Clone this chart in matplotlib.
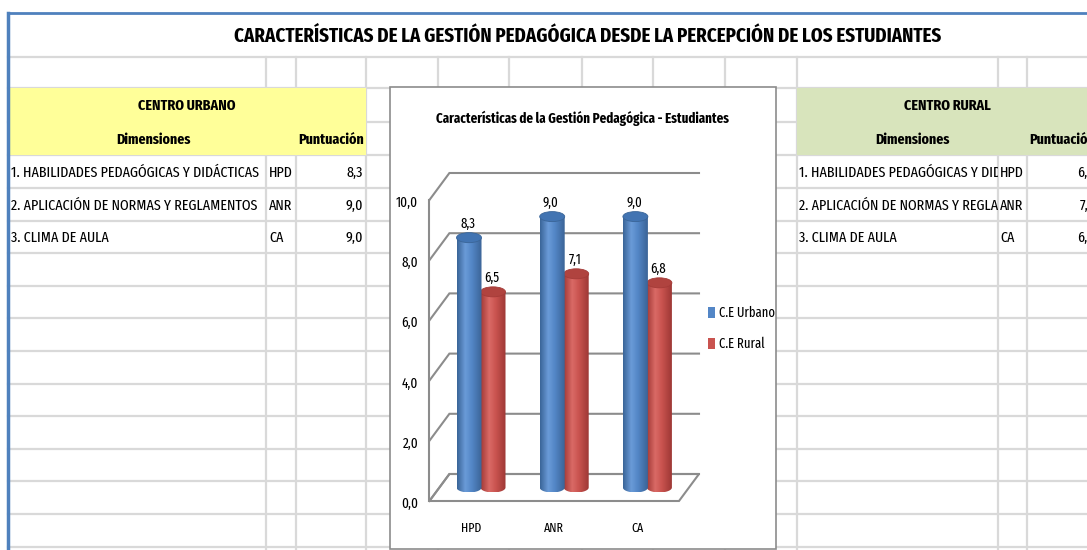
import numpy as np
import matplotlib
matplotlib.use("Agg")
import matplotlib.pyplot as plt
from matplotlib import font_manager
from matplotlib.colors import LinearSegmentedColormap
from matplotlib.patches import Rectangle, Ellipse, Polygon, Patch

# --- data -------------------------------------------------------------------
TITLE = "CARACTERÍSTICAS DE LA GESTIÓN PEDAGÓGICA DESDE LA PERCEPCIÓN DE LOS ESTUDIANTES"
CHART_TITLE = "Características de la Gestión Pedagógica - Estudiantes"
DIMENSIONS = ["1. HABILIDADES PEDAGÓGICAS Y DIDÁCTICAS",
              "2. APLICACIÓN DE NORMAS Y REGLAMENTOS",
              "3. CLIMA DE AULA"]
CODES = ["HPD", "ANR", "CA"]
URBAN = [8.3, 9.0, 9.0]
RURAL = [6.5, 7.1, 6.8]
SERIES = ["C.E Urbano", "C.E Rural"]
Y_TICKS = [0, 2, 4, 6, 8, 10]

# --- style --------------------------------------------------------------------
W, H = 1087, 550
GRID = "#D9D9D9"
BORDER_BLUE = "#4F81BD"
YELLOW = "#FFFF99"
GREEN = "#D8E4BC"
WALL = "#8C8C8C"
BLUE = ["#3A6598", "#6A9BD8", "#5386C6", "#3B6497"]
RED = ["#A43B38", "#DA6A66", "#C9534F", "#9E3835"]
BLUE_CAP = "#4274B2"
RED_CAP = "#B0433F"

# spreadsheet row / column edges (pixels)
ROW_EDGES = [57, 88, 122, 155, 188, 221, 253, 286, 318, 351, 384, 416, 449, 481, 514, 547]
COL_EDGES = [266, 296, 366, 438, 509, 582, 653, 725, 797, 998, 1027]

# the screenshot is squeezed sideways, so condensed faces fit it best
names = {f.name for f in font_manager.fontManager.ttflist}
FONT = next((f for f in ["Fira Sans Extra Condensed", "Fira Sans Condensed",
                         "Open Sans Condensed"] if f in names), "Liberation Sans")
plt.rcParams["font.family"] = [FONT, "DejaVu Sans"]
BOLD = dict(fontweight="bold")


def fmt(v):
    return f"{v:.1f}".replace(".", ",")


fig = plt.figure(figsize=(W / 100, H / 100), dpi=100)
renderer = fig.canvas.get_renderer()


def size_for(s, width_px, cap_px, **kw):
    # font size that gives the reference width, but no taller capitals than the reference
    t = fig.text(0, 0, s, fontsize=10, **kw)
    w = t.get_window_extent(renderer=renderer).width
    t.remove()
    return min(cap_px / 0.69 * 0.72, 10 * width_px / w)


# --- spreadsheet background ---------------------------------------------------
bg = fig.add_axes([0, 0, 1, 1])
bg.set_xlim(0, W)
bg.set_ylim(H, 0)
bg.axis("off")

for y in ROW_EDGES:
    bg.plot([8, W], [y, y], color=GRID, lw=1.6, zorder=1)
for x in COL_EDGES:
    bg.plot([x, x], [57, H], color=GRID, lw=1.6, zorder=1)
bg.plot([8, W], [13, 13], color=BORDER_BLUE, lw=2, zorder=3)
bg.plot([8, 8], [13, H], color=BORDER_BLUE, lw=2.5, zorder=3)

bg.add_patch(Rectangle((9, 88), 357, 67, facecolor=YELLOW, edgecolor="none", zorder=2))
bg.add_patch(Rectangle((797, 88), 300, 67, facecolor=GREEN, edgecolor="none", zorder=2))

bg.text(588, 36, TITLE, ha="center", va="center", zorder=4,
        fontsize=size_for(TITLE, 703, 18, **BOLD), **BOLD)

head = size_for("CENTRO URBANO", 97, 13, **BOLD)
row_fs = size_for(DIMENSIONS[0], 248, 13)
row_y = [(ROW_EDGES[i] + ROW_EDGES[i + 1]) / 2 + 1 for i in range(3, 6)]

for x0, name, vals, cx, dim_x, pun_x, val_x in [
        (11, "CENTRO URBANO", URBAN, 187, 153, 331, 363),
        (799, "CENTRO RURAL", RURAL, 947, 912, 1062, 1094)]:
    bg.text(cx, 106, name, ha="center", va="center", fontsize=head, zorder=4, **BOLD)
    bg.text(dim_x, 140, "Dimensiones", ha="center", va="center", fontsize=head, zorder=4, **BOLD)
    bg.text(pun_x, 140, "Puntuación", ha="center", va="center", fontsize=head, zorder=4, **BOLD)
    # right table long names are cut by the code column, as in the sheet
    clip = Rectangle((x0 - 3, 0), (998 if x0 > 400 else W) - x0 + 3, H, transform=bg.transData)
    for y, dim, code, v in zip(row_y, DIMENSIONS, CODES, vals):
        t = bg.text(x0, y, dim, ha="left", va="center", fontsize=row_fs, zorder=4, clip_on=True)
        t.set_clip_path(clip)
        bg.text(x0 + 258 if x0 < 400 else 1000, y, code, ha="left", va="center",
                fontsize=row_fs, zorder=4)
        bg.text(val_x, y, fmt(v), ha="right", va="center", fontsize=row_fs, zorder=4)

# chart box
bg.add_patch(Rectangle((390, 87), 386, 462, facecolor="white", edgecolor="#8C8C8C",
                       lw=1.2, zorder=5))
bg.text(582, 118, CHART_TITLE, ha="center", va="center", zorder=6,
        fontsize=size_for(CHART_TITLE, 293, 13, **BOLD), **BOLD)

# --- 3d cylinder chart ----------------------------------------------------------
# pixel -> data: x = (px - 481) / 83.2, v = (487.5 - py) / 30.1
ax = fig.add_axes([390 / W, 1 - 549 / H, 386 / W, 462 / H])
ax.patch.set_visible(False)
ax.axis("off")
xlim = ((390 - 481) / 83.2, (776 - 481) / 83.2)
ylim = ((487.5 - 549) / 30.1, (487.5 - 87) / 30.1)

n = len(CODES)
dx, dv = 10 / 83.2, 13.5 / 30.1           # half depth of the plot
left, right = -0.5, n - 0.5

floor = Polygon([(left + dx, dv), (right + dx, dv), (right - dx, -dv), (left - dx, -dv)],
                closed=True, facecolor="white", edgecolor=WALL, lw=1.5, zorder=1)
ax.add_patch(floor)
for v in Y_TICKS:
    ax.plot([left - dx, left + dx, right + dx], [v - dv, v + dv, v + dv],
            color=WALL, lw=1.5, zorder=1.5, solid_joinstyle="miter")
ax.plot([left - dx, left - dx], [-dv, max(Y_TICKS) - dv], color=WALL, lw=1.5, zorder=1.5)

tick_fs = size_for("10,0", 22, 11)
for v in Y_TICKS:
    ax.annotate(fmt(v), (left - dx, v - dv), xytext=(-8, -2), textcoords="offset points",
                ha="right", va="center", fontsize=tick_fs)
cat_fs = size_for("HPD", 20, 11.5)
for i, code in enumerate(CODES):
    ax.annotate(code, (i - dx, -dv), xytext=(0, -19.5), textcoords="offset points",
                ha="center", va="center", fontsize=cat_fs)

hw, ch = 12.5 / 83.2, 5 / 30.1
off = 12 / 83.2
lab_fs = size_for("8,3", 15, 10.5)


def cylinder(xc, val, shades, cap_color, z):
    cmap = LinearSegmentedColormap.from_list("c", list(zip([0, 0.33, 0.6, 1], shades)))
    t = np.linspace(np.pi, 2 * np.pi, 40)
    verts = np.column_stack([xc + hw * np.cos(t), ch * np.sin(t)])
    verts = np.vstack([verts, [[xc + hw, val], [xc - hw, val]]])
    body = Polygon(verts, closed=True, transform=ax.transData)
    im = ax.imshow(np.linspace(0, 1, 64)[None, :], cmap=cmap, aspect="auto",
                   extent=(xc - hw, xc + hw, -ch, val), origin="lower", zorder=z,
                   interpolation="bilinear")
    im.set_clip_path(body)
    ax.add_patch(Ellipse((xc, val), 2 * hw, 2 * ch, facecolor=cap_color,
                         edgecolor=shades[0], lw=0.6, zorder=z + 0.1))
    ax.annotate(fmt(val), (xc, val + ch), xytext=(-1, 1.5), textcoords="offset points",
                ha="center", va="bottom", fontsize=lab_fs, zorder=7)


for i in range(n):
    cylinder(i + off, RURAL[i], RED, RED_CAP, 3)
    cylinder(i - off, URBAN[i], BLUE, BLUE_CAP, 4)

ax.set_xlim(*xlim)
ax.set_ylim(*ylim)

leg_fs = size_for(SERIES[0], 56, 10.5)
fs_px = leg_fs * 100 / 72
ax.legend([Patch(facecolor=BLUE[2]), Patch(facecolor=RED[2])], SERIES,
          loc="upper left", bbox_to_anchor=(708 / W, 1 - 306 / H),
          bbox_transform=fig.transFigure, frameon=False, fontsize=leg_fs,
          borderpad=0, borderaxespad=0, handlelength=0.5, handleheight=0.9,
          handletextpad=0.3, labelspacing=(33 - 1.2 * fs_px) / fs_px)

fig.savefig("out.png", dpi=100)
